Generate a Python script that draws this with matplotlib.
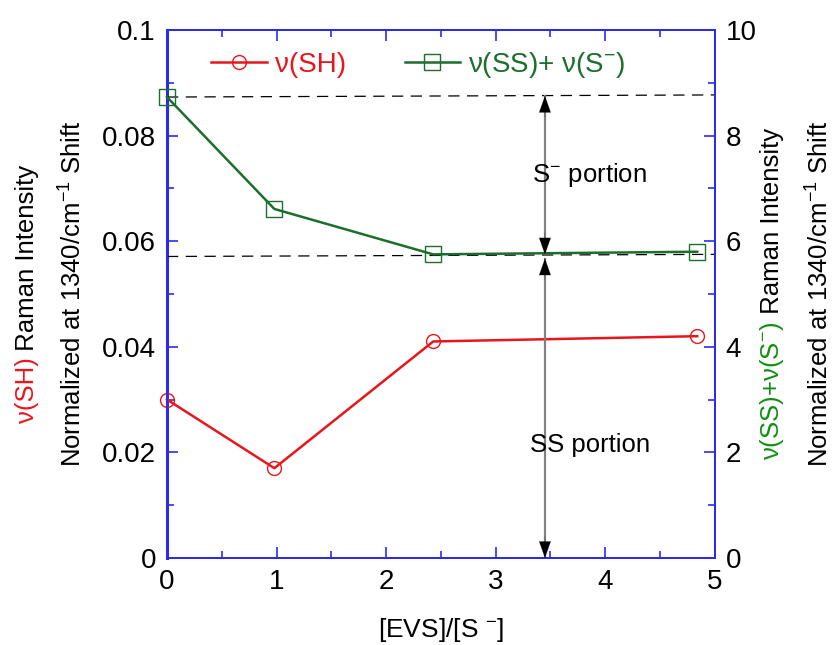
import matplotlib
matplotlib.use('Agg')
import matplotlib.pyplot as plt
from matplotlib.ticker import MultipleLocator, FuncFormatter
from matplotlib.lines import Line2D

plt.rcParams['font.family'] = ['Liberation Sans', 'DejaVu Sans']
plt.rcParams['mathtext.fontset'] = 'custom'
plt.rcParams['mathtext.rm'] = 'Liberation Sans'
plt.rcParams['mathtext.it'] = 'Liberation Sans:italic'
plt.rcParams['font.size'] = 18

# data
evs_ratio = [0.0, 0.98, 2.43, 4.84]
sh_intensity = [0.030, 0.017, 0.041, 0.042]          # left axis
ss_s_intensity = [8.73, 6.61, 5.75, 5.80]           # right axis
s_minus_level = [8.73, 8.77]                         # upper dashed guide
ss_level = [5.71, 5.75]                              # lower dashed guide
arrow_x = 3.45

RED = '#e8161c'
GREEN = '#1b6e2c'
GREEN_LBL = '#119011'
BLUE = '#2b2bf0'

fig = plt.figure(figsize=(8.35, 6.45), dpi=100)
ax = fig.add_axes([0.2, 0.135, 0.656, 0.8185])
ax2 = ax.twinx()

ax.plot(evs_ratio, sh_intensity, color=RED, lw=1.8, marker='o', ms=10,
        mfc='none', mec=RED, mew=1.0, clip_on=False, zorder=3)
ax2.plot(evs_ratio, ss_s_intensity, color=GREEN, lw=1.8, marker='s', ms=11,
         mfc='none', mec=GREEN, mew=1.0, clip_on=False, zorder=3)

# dashed guides
ax2.plot([0, 5], s_minus_level, color='k', lw=0.9, ls=(0, (9, 6)), zorder=2)
ax2.plot([0, 5], ss_level, color='k', lw=0.9, ls=(0, (9, 6)), zorder=2)

# double arrows: gray shaft, black heads
def double_arrow(axis, x, y0, y1):
    axis.plot([x, x], [y0, y1], color='0.5', lw=1.6, zorder=2)
    for tip, base in ((y1, y1 - 0.4), (y0, y0 + 0.4)):
        axis.annotate('', xy=(x, tip), xytext=(x, base),
                      arrowprops=dict(arrowstyle='-|>,head_length=0.45,head_width=0.16',
                                      color='k', lw=0.1,
                                      mutation_scale=26, shrinkA=0, shrinkB=0),
                      zorder=4)

double_arrow(ax2, arrow_x, ss_level[0] + 0.04, s_minus_level[0] + 0.02)
double_arrow(ax2, arrow_x, 0.0, ss_level[0] - 0.04)

ax2.text(3.86, 7.25, 'S$^{\\mathregular{-}}$ portion', ha='center', va='center', fontsize=18.5)
ax2.text(3.86, 2.14, 'SS portion', ha='center', va='center', fontsize=18.5)

# axes styling
ax.set_xlim(0, 5)
ax.set_ylim(0, 0.1)
ax2.set_ylim(0, 10)
ax.xaxis.set_major_locator(MultipleLocator(1))
ax.xaxis.set_minor_locator(MultipleLocator(0.5))
ax.yaxis.set_major_locator(MultipleLocator(0.02))
ax.yaxis.set_minor_locator(MultipleLocator(0.01))
ax2.yaxis.set_major_locator(MultipleLocator(2))
ax2.yaxis.set_minor_locator(MultipleLocator(1))
ax.yaxis.set_major_formatter(FuncFormatter(lambda v, p: f'{v:g}'))
ax2.yaxis.set_major_formatter(FuncFormatter(lambda v, p: f'{v:g}'))

for a in (ax, ax2):
    for s in a.spines.values():
        s.set_color(BLUE)
        s.set_linewidth(1.4)
ax.spines['left'].set_linewidth(2.2)
ax.tick_params(axis='x', which='both', direction='in', top=True, color=BLUE,
               labelsize=20, pad=8)
ax.tick_params(axis='y', which='both', direction='in', right=False, color=BLUE,
               labelsize=20, pad=8)
ax2.tick_params(axis='y', which='both', direction='in', color=BLUE,
                labelsize=20, pad=8)
for a in (ax, ax2):
    a.tick_params(which='major', length=8, width=1.2)
    a.tick_params(which='minor', length=5, width=1.2)

ax.set_xlabel('[EVS]/[S $^{\\mathregular{-}}$]', fontsize=19, labelpad=15)

# legend
handles = [
    Line2D([], [], color=RED, lw=1.8, marker='o', ms=10, mfc='none', mec=RED, mew=1.0),
    Line2D([], [], color=GREEN, lw=1.8, marker='s', ms=11, mfc='none', mec=GREEN, mew=1.0),
]
ax.legend(handles, ['\u03bd(SH)', '\u03bd(SS)+ \u03bd(S$^{\\mathregular{-}}$)'],
          loc='upper left', bbox_to_anchor=(0.035, 1.01), ncol=2, frameon=False,
          handlelength=2.0, columnspacing=2.1, handletextpad=0.3,
          labelcolor=[RED, GREEN], fontsize=20)

# multi-coloured y labels
fig.canvas.draw()
renderer = fig.canvas.get_renderer()
H = fig.bbox.height
W = fig.bbox.width

def two_tone_label(xpx, parts, ycenter_px):
    texts = [fig.text(xpx / W, 0, s, rotation=90, color=c, ha='center', va='bottom',
                      fontsize=18.5) for s, c in parts]
    heights = [t.get_window_extent(renderer).height for t in texts]
    y = ycenter_px - sum(heights) / 2
    for t, h in zip(texts, heights):
        t.set_y(y / H)
        y += h

mid = (0.135 + 0.8185 / 2) * H
two_tone_label(27, [('\u03bd(SH)', RED), (' Raman Intensity', 'k')], mid)
two_tone_label(73, [('Normalized at 1340/cm$^{\\mathregular{-1}}$ Shift', 'k')], mid)
two_tone_label(772, [('\u03bd(SS)+\u03bd(S$^{\\mathregular{-}}$)', GREEN_LBL),
                     (' Raman Intensity', 'k')], mid)
two_tone_label(820, [('Normalized at 1340/cm$^{\\mathregular{-1}}$ Shift', 'k')], mid)

fig.savefig('out.png', dpi=100)
